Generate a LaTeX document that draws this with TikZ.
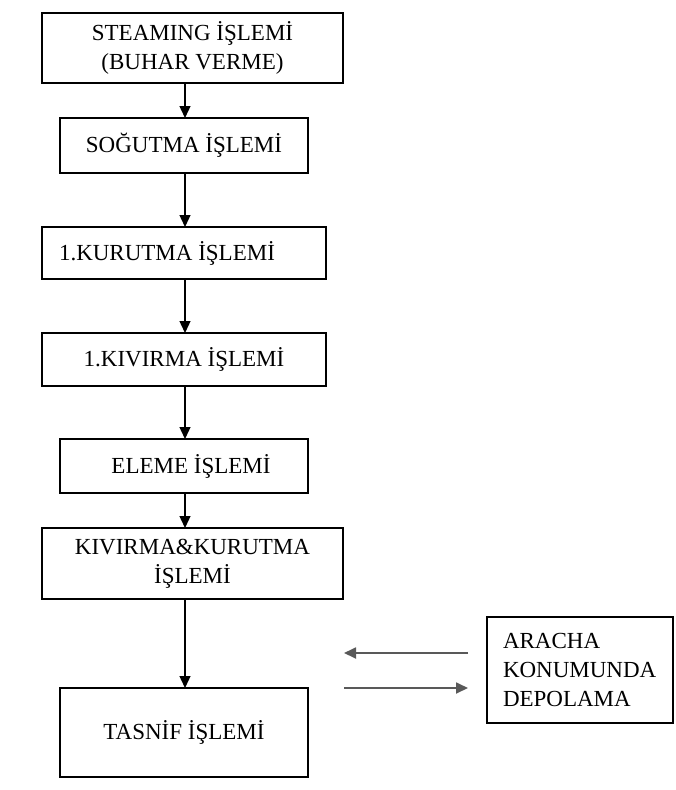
\documentclass[tikz,border=0pt]{standalone}
\usepackage{fontspec}
\setmainfont{Liberation Serif}
\usetikzlibrary{arrows.meta}
\begin{document}
\begin{tikzpicture}[x=1pt,y=-1pt,
  stepbox/.style={draw=black,line width=1.4pt,rectangle,inner sep=0pt,
    font=\fontsize{23}{29}\selectfont,align=center},
  flow/.style={draw=black,line width=1.3pt,-{Triangle[length=12pt,width=11pt]}},
  side/.style={draw=black!65,line width=1.8pt,-{Triangle[length=12pt,width=11pt]}}]
\useasboundingbox (0,0) rectangle (675,790);
% process boxes (centre, width, height in px)
\node[stepbox,minimum width=301pt,minimum height=70pt] (steam) at (192.5,48) {STEAMING İŞLEMİ\\(BUHAR VERME)};
\node[stepbox,minimum width=248pt,minimum height=55pt] (cool) at (184,145.5) {SOĞUTMA İŞLEMİ};
\node[stepbox,minimum width=284pt,minimum height=52pt] (dry1) at (184,253) {\hspace*{-34pt}1.KURUTMA İŞLEMİ};
\node[stepbox,minimum width=284pt,minimum height=53pt] (roll1) at (184,359.5) {1.KIVIRMA İŞLEMİ};
\node[stepbox,minimum width=248pt,minimum height=54pt] (sieve) at (184,466) {\hspace*{14pt}ELEME İŞLEMİ};
\node[stepbox,minimum width=301pt,minimum height=71pt] (rolldry) at (192.5,563.5) {KIVIRMA\&KURUTMA\\İŞLEMİ};
\node[stepbox,minimum width=248pt,minimum height=89pt] (grade) at (184,732.5) {TASNİF İŞLEMİ};
\node[stepbox,minimum width=186pt,minimum height=106pt,align=left,text width=154pt] (store) at (580,670) {ARACHA\\KONUMUNDA\\DEPOLAMA};
% flow arrows
\draw[flow] (185,83) -- (185,118);
\draw[flow] (185,173) -- (185,227);
\draw[flow] (185,279) -- (185,333);
\draw[flow] (185,386) -- (185,439);
\draw[flow] (185,493) -- (185,528);
\draw[flow] (185,599) -- (185,688);
% exchange with storage
\coordinate (inA) at (468,653);
\coordinate (inB) at (344,653);
\coordinate (outA) at (344,688);
\coordinate (outB) at (468,688);
\draw[side] (inA) -- (inB);
\draw[side] (outA) -- (outB);
\end{tikzpicture}
\end{document}
